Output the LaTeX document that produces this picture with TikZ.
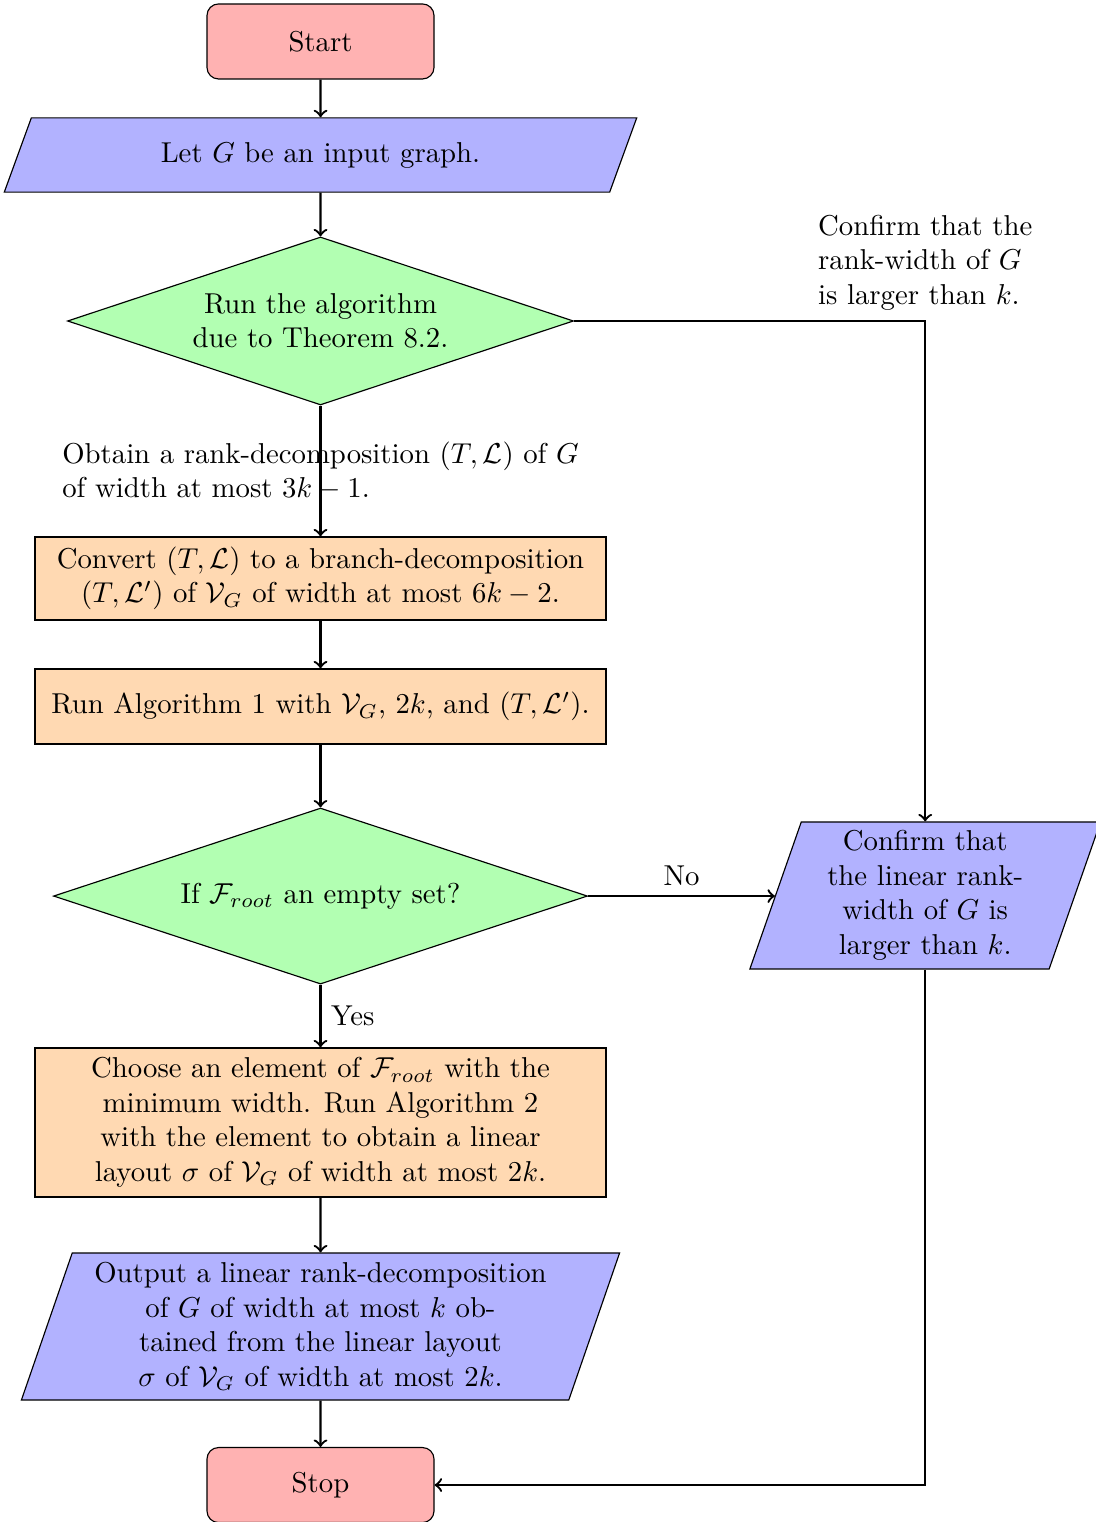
\documentclass[tikz,border=0pt]{standalone}
\usetikzlibrary{shapes.geometric}
\begin{document}
\begin{tikzpicture}[
  startstop/.style={rectangle, rounded corners=4pt, draw=black, fill=red!30,
    minimum width=2.775cm, minimum height=0.917cm, align=center},
  iobox/.style={trapezium, trapezium left angle=70, trapezium right angle=110,
    trapezium stretches body, draw=black, fill=blue!30, align=center, inner xsep=0pt, inner ysep=2pt},
  decision/.style={diamond, draw=black, fill=green!30, align=center, inner sep=0pt, aspect=3},
  process/.style={rectangle, draw=black, fill=orange!30, align=center,
    minimum width=6.98cm, inner ysep=2pt},
  arrow/.style={thick, ->},
  lbl/.style={align=left}
]
\useasboundingbox (0,0) rectangle (13.398,-18.606);

\node[startstop] (start) at (3.918,-0.507) {Start};
\node[iobox, text width=7.07cm, inner ysep=0.296cm, minimum height=0.905cm] (input) at (3.918,-1.895) {Let $G$ be an input graph.};
\node[decision, minimum width=6.186cm, minimum height=2.054cm] (dec1) at (3.918,-3.924) {Run the algorithm\\ due to Theorem 8.2.};
\node[process, minimum height=1.015cm] (conv) at (3.918,-7.072) {Convert $(T,\mathcal{L})$ to a branch-decomposition\\ $(T,\mathcal{L}')$ of $\mathcal{V}_G$ of width at most $6k-2$.};
\node[process, minimum height=0.917cm] (run) at (3.918,-8.637) {Run Algorithm 1 with $\mathcal{V}_G$, $2k$, and $(T,\mathcal{L}')$.};
\node[decision, minimum width=6.528cm, minimum height=2.152cm] (dec2) at (3.918,-10.954) {If $\mathcal{F}_{root}$ an empty set?};
\node[iobox, text width=3.03cm, minimum height=1.797cm] (conf) at (11.31,-10.947) {Confirm that\\ the linear rank-\\ width of $G$ is\\ larger than $k$.};
\node[process, minimum height=1.822cm] (choose) at (3.918,-13.722) {Choose an element of $\mathcal{F}_{root}$ with the\\ minimum width. Run Algorithm 2\\ with the element to obtain a linear\\ layout $\sigma$ of $\mathcal{V}_G$ of width at most $2k$.};
\node[iobox, text width=6.07cm, minimum height=1.797cm] (output) at (3.918,-16.216) {Output a linear rank-decomposition\\ of $G$ of width at most $k$ ob-\\ tained from the linear layout\\ $\sigma$ of $\mathcal{V}_G$ of width at most $2k$.};
\node[startstop] (stop) at (3.918,-18.154) {Stop};

\draw[arrow] (start) -- (input);
\draw[arrow] (input) -- (dec1);
\draw[arrow] (dec1) -- node[lbl] (l1) {Obtain a rank-decomposition $(T,\mathcal{L})$ of $G$\\ of width at most $3k-1$.} (conv);
\draw[arrow] (dec1.east) -| node[lbl, pos=0.5, above] (l2) {Confirm that the\\ rank-width of $G$\\ is larger than $k$.} (conf.north);
\draw[arrow] (conv) -- (run);
\draw[arrow] (run) -- (dec2);
\draw[arrow] (dec2.east) -- node[above] (lno) {No} (conf.west |- dec2.east);
\draw[arrow] (dec2) -- node[right] (lyes) {Yes} (choose);
\draw[arrow] (choose) -- (output);
\draw[arrow] (output) -- (stop);
\draw[arrow] (conf.south) |- (stop.east);
\end{tikzpicture}
\end{document}
